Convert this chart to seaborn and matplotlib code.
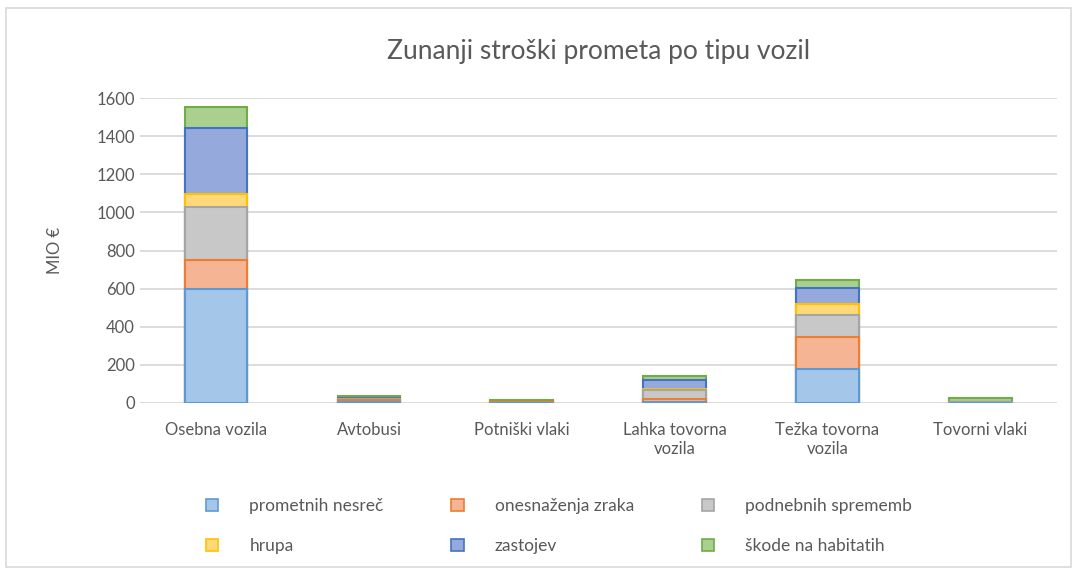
import numpy as np
import pandas as pd
import seaborn as sns
import matplotlib.pyplot as plt
from matplotlib.patches import Patch, Rectangle

# Kategorije in vrednosti (MIO €), odčitane s slike
kategorije = ['Osebna vozila', 'Avtobusi', 'Potniški vlaki',
              'Lahka tovorna\nvozila', 'Težka tovorna\nvozila', 'Tovorni vlaki']

prometnih_nesrec = [600, 5, 2, 5, 178, 1]
onesnazenja_zraka = [150, 10, 1, 16, 168, 1]
podnebnih_sprememb = [280, 5, 1, 48, 115, 2]
hrupa = [65, 2, 2, 2, 60, 0]
zastojev = [350, 6, 0, 49, 85, 0]
skode_na_habitatih = [110, 10, 8, 21, 40, 22]

serije = ['prometnih nesreč', 'onesnaženja zraka', 'podnebnih sprememb',
          'hrupa', 'zastojev', 'škode na habitatih']
vrednosti = [prometnih_nesrec, onesnazenja_zraka, podnebnih_sprememb,
             hrupa, zastojev, skode_na_habitatih]

polnila = ['#a4c6e8', '#f5b494', '#c8c8c8', '#ffd978', '#95a9dc', '#a9d08e']
robovi = ['#5b9bd5', '#ed7d31', '#a5a5a5', '#ffc000', '#4472c4', '#70ad47']

sns.set_theme(style='white')
plt.rcParams['font.family'] = ['Lato', 'DejaVu Sans']

fig = plt.figure(figsize=(10.75, 5.72), dpi=100)
ax = fig.add_axes([0.130, 0.2955, 0.853, 0.533])

# Kumulativne vsote - risemo od zgoraj navzdol, da se stolpci zlozijo
kumulativa = np.cumsum(np.array(vrednosti), axis=0)
for i in reversed(range(len(serije))):
    df = pd.DataFrame({'kategorija': kategorije, 'vrednost': kumulativa[i]})
    sns.barplot(data=df, x='kategorija', y='vrednost', color=polnila[i],
                edgecolor=robovi[i], linewidth=1.5, width=0.41, ax=ax,
                saturation=1, zorder=3)

ax.set_ylim(0, 1600)
ax.set_yticks(range(0, 1601, 200))
ax.yaxis.grid(True, color='#d9d9d9', linewidth=1.3, zorder=0)
ax.set_axisbelow(True)
for s in ax.spines.values():
    s.set_visible(False)
ax.tick_params(axis='both', length=0, labelsize=12, labelcolor='#595959')
ax.tick_params(axis='x', pad=14)
ax.set_xlabel('')
ax.set_ylabel('MIO €', fontsize=12, color='#595959', labelpad=24)
ax.set_title('Zunanji stroški prometa po tipu vozil', fontsize=19,
             color='#595959', pad=28)

# Legenda - vrstni red po vrsticah (matplotlib polni po stolpcih)
rocaji = [Patch(facecolor=polnila[i], edgecolor=robovi[i], linewidth=1.2, label=serije[i])
          for i in range(len(serije))]
vrstni_red = [0, 3, 1, 4, 2, 5]
fig.legend([rocaji[i] for i in vrstni_red], [serije[i] for i in vrstni_red],
           ncol=3, loc='lower center', bbox_to_anchor=(0.52, 0.004),
           frameon=False, fontsize=12.5, labelcolor='#595959',
           handlelength=0.7, handleheight=0.7, columnspacing=3.9,
           handletextpad=1.8, labelspacing=1.4)

# Okvir grafa
fig.patches.append(Rectangle((0.006, 0.008), 0.99, 0.978, transform=fig.transFigure,
                             fill=False, edgecolor='#d9d9d9', linewidth=1.2))

fig.savefig('out.png', dpi=100)
